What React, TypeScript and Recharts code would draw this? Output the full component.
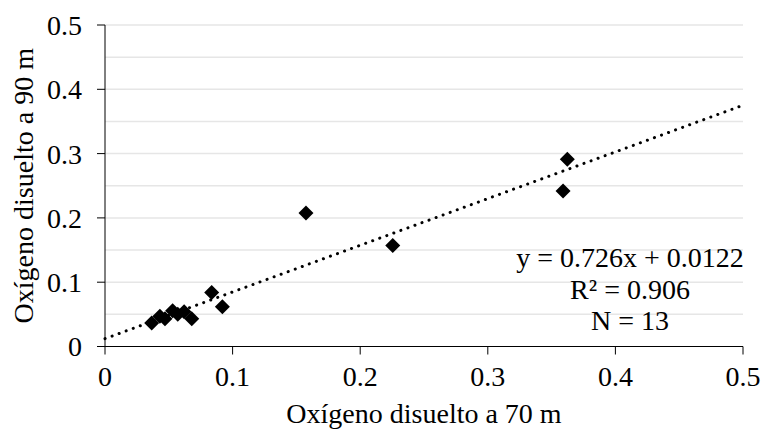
import { ScatterChart, Scatter, XAxis, YAxis, CartesianGrid, ReferenceLine, Label } from "recharts";

// oxígeno disuelto (70 m vs 90 m)
const oxygen70 = [0.0366, 0.043, 0.047, 0.053, 0.057, 0.062, 0.068, 0.0836, 0.092, 0.1575, 0.2255, 0.359, 0.3623];
const oxygen90 = [0.0364, 0.047, 0.043, 0.0555, 0.05, 0.054, 0.043, 0.084, 0.062, 0.2075, 0.157, 0.242, 0.2914];

const xTicks = [0, 0.1, 0.2, 0.3, 0.4, 0.5];
const yTicks = [0, 0.1, 0.2, 0.3, 0.4, 0.5];
const gridValues = [0.05, 0.1, 0.15, 0.2, 0.25, 0.3, 0.35, 0.4, 0.45, 0.5];

const slope = 0.726;
const intercept = 0.0122;
const fitLines = ["y = 0.726x + 0.0122", "R² = 0.906", "N = 13"];

const points = oxygen70.map((x, i) => ({ x, y: oxygen90[i] }));

const FONT = '"Liberation Serif", "Times New Roman", serif';

function Diamond(props: any) {
  const { cx, cy } = props;
  const r = 7.5;
  return (
    <polygon
      points={`${cx},${cy - r} ${cx + r},${cy} ${cx},${cy + r} ${cx - r},${cy}`}
      fill="#000"
    />
  );
}

export default function App() {
  return (
    <div style={{ position: "absolute", left: 0, top: 0, width: 764, height: 432, background: "#fff" }}>
      <ScatterChart width={764} height={432} margin={{ top: 25, right: 21, bottom: 0, left: 0 }}>
        <CartesianGrid
          horizontal
          vertical={false}
          horizontalValues={gridValues}
          stroke="#e6e6e6"
          strokeWidth={1.5}
        />
        <XAxis
          type="number"
          dataKey="x"
          domain={[0, 0.5]}
          ticks={xTicks}
          height={85.5}
          stroke="#000"
          tickSize={8}
          tickMargin={12}
          tick={{ fill: "#000", fontSize: 28, fontFamily: FONT }}
        >
          <Label
            value="Oxígeno disuelto a 70 m"
            position="insideBottom"
            offset={9}
            style={{ fill: "#000", fontSize: 28, fontFamily: FONT }}
          />
        </XAxis>
        <YAxis
          type="number"
          dataKey="y"
          domain={[0, 0.5]}
          ticks={yTicks}
          width={105}
          stroke="#000"
          tickSize={8}
          tickMargin={15}
          tick={{ fill: "#000", fontSize: 28, fontFamily: FONT }}
        >
          <Label
            value="Oxígeno disuelto a 90 m"
            angle={-90}
            position="insideLeft"
            offset={23}
            style={{ fill: "#000", fontSize: 28, fontFamily: FONT, textAnchor: "middle" }}
          />
        </YAxis>
        <ReferenceLine
          segment={[
            { x: 0, y: intercept },
            { x: 0.5, y: intercept + slope * 0.5 },
          ]}
          stroke="#000"
          strokeWidth={3}
          strokeDasharray="0.1 7.4"
          strokeLinecap="round"
        />
        <Scatter data={points} fill="#000" shape={Diamond} isAnimationActive={false} />
      </ScatterChart>
      <div
        style={{
          position: "absolute",
          left: 480,
          top: 242,
          width: 300,
          textAlign: "center",
          fontFamily: FONT,
          fontSize: 28,
          lineHeight: "31.5px",
          color: "#000",
        }}
      >
        {fitLines.map((t) => (
          <div key={t}>{t}</div>
        ))}
      </div>
    </div>
  );
}
